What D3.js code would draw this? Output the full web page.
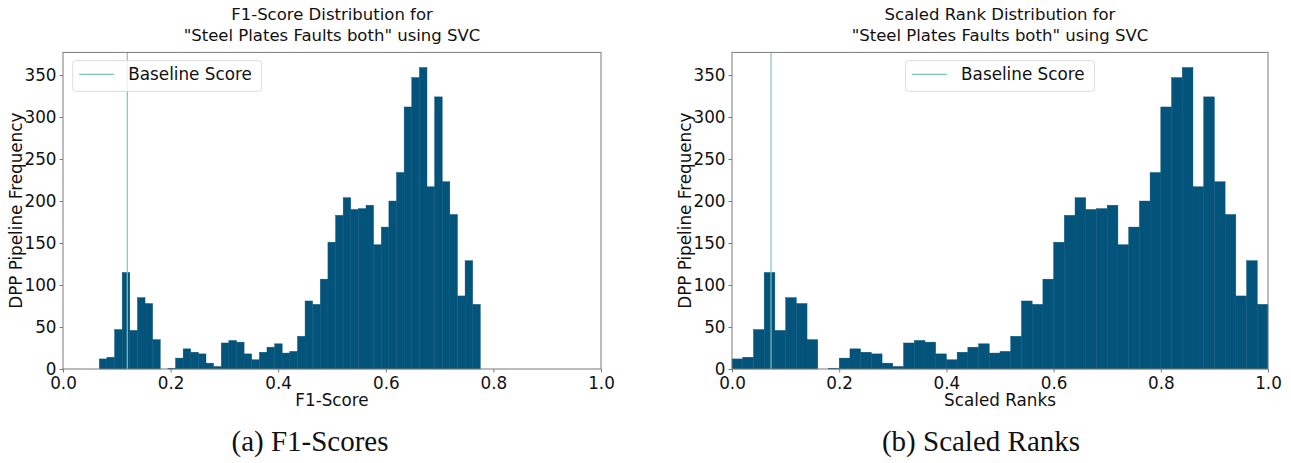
<!DOCTYPE html>
<html>
<head>
<meta charset="utf-8">
<script src="https://cdn.jsdelivr.net/npm/d3@7"></script>
<style>
  body { margin: 0; background: #fff; }
  svg text { font-family: "DejaVu Sans", sans-serif; fill: #111; }
  .caption { font-family: "Liberation Serif", "Times New Roman", serif; }
</style>
</head>
<body>
<svg id="fig" width="1291" height="463"></svg>
<script>
// histogram counts, 50 bins (same pipelines in both panels)
var binCounts = [12, 14, 47, 115, 46, 85, 78, 35, 0, 1,
                 13, 24, 20, 18, 7, 3, 31, 34, 32, 18,
                 11, 20, 26, 30, 19, 21, 39, 81, 77, 107,
                 151, 183, 204, 190, 191, 195, 148, 169, 200, 234,
                 312, 347, 359, 217, 324, 223, 184, 87, 129, 77];
// bin range of each panel
var f1Range = [0.0675, 0.7757];
var rankRange = [0.0, 1.0];
var baselines = [0.1195, 0.0728];
var xTicks = [0, 0.2, 0.4, 0.6, 0.8, 1.0];
var yTicks = [0, 50, 100, 150, 200, 250, 300, 350];
var titles = [["F1-Score Distribution for", "\"Steel Plates Faults both\" using SVC"],
              ["Scaled Rank Distribution for", "\"Steel Plates Faults both\" using SVC"]];
var xLabels = ["F1-Score", "Scaled Ranks"];
var captions = ["(a) F1-Scores", "(b) Scaled Ranks"];

var svg = d3.select("#fig");
var barColor = "#04537a";
var lineColor = "#7cc7b9";
var spineColor = "#7a7a7a";

var panels = [
  { left: 63, right: 601, range: f1Range, legend: "left", capX: 310 },
  { left: 732, right: 1268, range: rankRange, legend: "center", capX: 981 }
];
var plotTop = 52.4, plotBottom = 369;

panels.forEach(function (p, k) {
  var x = d3.scaleLinear().domain([0, 1]).range([p.left, p.right]);
  var y = d3.scaleLinear().domain([0, d3.max(binCounts) * 1.05]).range([plotBottom, plotTop]);
  var g = svg.append("g");

  var w = (p.range[1] - p.range[0]) / binCounts.length;
  g.selectAll("rect.bar").data(binCounts).enter().append("rect")
    .attr("class", "bar")
    .attr("x", function (d, i) { return x(p.range[0] + i * w); })
    .attr("width", function (d, i) { return x(p.range[0] + (i + 1) * w) - x(p.range[0] + i * w); })
    .attr("y", function (d) { return y(d); })
    .attr("height", function (d) { return y(0) - y(d); })
    .attr("fill", barColor)
    .attr("stroke", barColor)
    .attr("stroke-width", 0.4);

  g.append("line")
    .attr("x1", x(baselines[k])).attr("x2", x(baselines[k]))
    .attr("y1", plotTop).attr("y2", plotBottom)
    .attr("stroke", lineColor).attr("stroke-width", 1.2);

  // axes
  var xAxis = g.append("g").attr("transform", "translate(0," + plotBottom + ")")
    .call(d3.axisBottom(x).tickValues(xTicks).tickFormat(d3.format(".1f")).tickSize(3.5).tickPadding(3));
  var yAxis = g.append("g").attr("transform", "translate(" + p.left + ",0)")
    .call(d3.axisLeft(y).tickValues(yTicks).tickSize(3.5).tickPadding(3));
  [xAxis, yAxis].forEach(function (a) {
    a.select(".domain").remove();
    a.selectAll("line").attr("stroke", spineColor);
    a.selectAll("text").style("font-size", "16.8px").attr("fill", "#111")
      .style("font-family", "DejaVu Sans, sans-serif");
  });
  xAxis.selectAll("text").attr("dy", "0.78em");

  g.append("rect")
    .attr("x", p.left).attr("y", plotTop)
    .attr("width", p.right - p.left).attr("height", plotBottom - plotTop)
    .attr("fill", "none").attr("stroke", spineColor).attr("stroke-width", 1);

  // titles and labels
  var cx = (p.left + p.right) / 2;
  titles[k].forEach(function (t, j) {
    g.append("text").attr("x", cx).attr("y", 20 + j * 21)
      .attr("text-anchor", "middle").style("font-size", "16.5px").text(t);
  });
  g.append("text").attr("x", cx).attr("y", 406)
    .attr("text-anchor", "middle").style("font-size", "16.8px").text(xLabels[k]);
  g.append("text")
    .attr("transform", "translate(" + (p.left - 41) + "," + ((plotTop + plotBottom) / 2) + ") rotate(-90)")
    .attr("text-anchor", "middle").style("font-size", "16.8px").text("DPP Pipeline Frequency");
  g.append("text").attr("class", "caption").attr("x", p.capX).attr("y", 451)
    .attr("text-anchor", "middle").style("font-size", "29px").text(captions[k]);

  // legend
  var lw = 189, lh = 30.6;
  var lx = p.legend === "left" ? p.left + 9.7 : cx - lw / 2;
  var ly = 60.7;
  var leg = g.append("g").attr("transform", "translate(" + lx + "," + ly + ")");
  leg.append("rect").attr("width", lw).attr("height", lh).attr("rx", 3)
    .attr("fill", "#fff").attr("fill-opacity", 0.8).attr("stroke", "#dcdcdc");
  leg.append("line").attr("x1", 6.5).attr("x2", 41.5).attr("y1", 13.6).attr("y2", 13.6)
    .attr("stroke", lineColor).attr("stroke-width", 1.2);
  leg.append("text").attr("x", 55.6).attr("y", 19.6)
    .style("font-size", "16.8px").text("Baseline Score");
});
</script>
</body>
</html>
